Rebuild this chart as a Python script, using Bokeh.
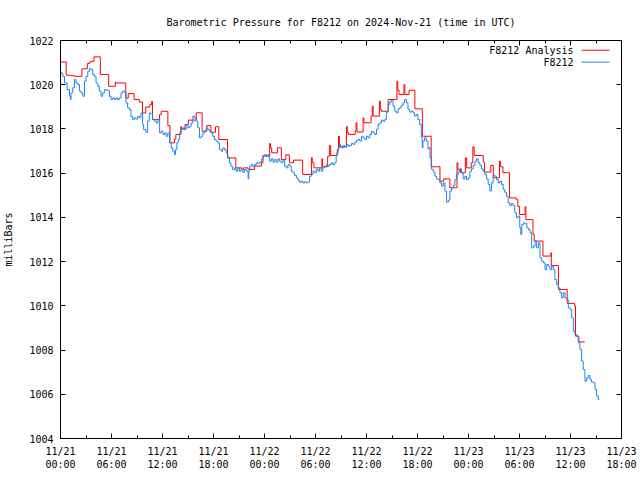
from bokeh.plotting import figure
from bokeh.models import Range1d, FixedTicker, LinearAxis, Label
from bokeh.embed import file_html
from bokeh.resources import INLINE

TITLE = "Barometric Pressure for F8212 on 2024-Nov-21 (time in UTC)"
Y_LABEL = "milliBars"
SERIES_NAMES = ["F8212 Analysis", "F8212"]

# hours since 2024-11-21 00:00 UTC
analysis_hours = [0.00, 0.67, 1.25, 1.64, 2.52, 3.16, 3.40, 3.60, 3.94, 4.69, 5.67, 6.45, 6.55,
                  7.68, 7.97, 8.66, 9.25, 9.64, 10.03, 10.52, 10.72, 10.82, 11.65, 11.85, 12.63,
                  12.88, 13.42, 13.57, 14.15, 14.25, 14.65, 15.04, 15.97, 16.66, 17.20, 17.69,
                  18.23, 18.62, 19.65, 20.63, 21.32, 21.52, 22.06, 22.84, 23.63, 23.82, 24.61,
                  24.71, 24.85, 25.54, 25.98, 26.52, 26.92, 27.41, 28.49, 29.52, 29.62, 29.81,
                  30.75, 30.84, 31.43, 31.63, 31.78, 32.56, 32.71, 32.81, 33.64, 33.74, 33.89,
                  34.67, 34.77, 34.87, 35.60, 35.70, 36.54, 36.68, 36.78, 37.52, 37.62, 37.76,
                  38.55, 39.58, 39.68, 39.83, 40.41, 40.51, 41.00, 41.69, 42.57, 43.61, 44.64,
                  45.08, 45.81, 46.65, 46.75, 47.04, 47.63, 47.78, 48.32, 48.51, 48.66, 49.74,
                  49.89, 50.62, 50.92, 51.65, 51.75, 52.05, 52.83, 53.62, 53.81, 54.01, 54.65,
                  54.75, 55.58, 55.73, 56.76, 57.69, 57.74, 58.58, 59.61, 60.49, 60.59, 60.98,
                  61.67]
analysis_mb = [1021.03, 1020.43, 1020.41, 1020.38, 1020.72, 1020.96, 1021.02, 1021.06, 1021.26,
               1020.46, 1019.93, 1020.12, 1020.08, 1019.40, 1019.60, 1019.33, 1019.22, 1018.72,
               1018.99, 1019.10, 1019.25, 1018.43, 1018.65, 1018.80, 1018.15, 1017.37, 1017.55,
               1017.75, 1018.10, 1018.00, 1018.20, 1018.40, 1018.73, 1017.90, 1018.15, 1017.85,
               1018.10, 1017.52, 1016.69, 1016.24, 1016.17, 1016.24, 1016.17, 1016.32, 1016.47,
               1016.77, 1017.34, 1017.15, 1016.92, 1017.15, 1016.62, 1016.83, 1016.47, 1016.59,
               1015.94, 1016.70, 1016.47, 1016.24, 1016.65, 1016.29, 1016.77, 1017.25, 1016.80,
               1017.07, 1017.67, 1017.19, 1018.10, 1017.83, 1017.75, 1017.90, 1018.28, 1017.86,
               1018.50, 1018.28, 1018.58, 1019.03, 1018.58, 1019.26, 1018.88, 1018.80, 1019.33,
               1020.16, 1019.75, 1019.56, 1020.01, 1019.56, 1019.75, 1018.91, 1017.67, 1016.29,
               1015.64, 1015.74, 1015.34, 1016.47, 1016.17, 1016.02, 1016.69, 1016.24, 1016.47,
               1017.19, 1016.80, 1016.50, 1016.05, 1016.35, 1015.79, 1016.54, 1016.29, 1016.02,
               1014.88, 1014.80, 1014.50, 1014.13, 1014.48, 1013.90, 1013.23, 1012.93, 1012.25,
               1012.40, 1011.82, 1010.74, 1010.11, 1010.00, 1008.63, 1008.37, 1008.37]

obs_hours = [0.00, 0.15, 0.27, 0.47, 0.78, 1.06, 1.17, 1.24, 1.44, 1.64, 1.83, 2.03, 2.23, 2.42,
             2.62, 2.82, 3.01, 3.21, 3.40, 3.60, 3.79, 3.98, 4.18, 4.38, 4.57, 4.77, 4.97, 5.16,
             5.36, 5.75, 5.95, 6.13, 6.33, 6.53, 6.72, 6.92, 7.12, 7.31, 7.51, 7.70, 7.90, 8.10,
             8.29, 8.49, 8.68, 8.87, 9.07, 9.27, 9.46, 9.66, 9.78, 10.05, 10.25, 10.44, 10.64,
             10.84, 11.07, 11.27, 11.46, 11.66, 11.85, 12.05, 12.24, 12.44, 12.63, 12.83, 13.03,
             13.22, 13.42, 13.54, 13.69, 13.85, 14.01, 14.20, 14.40, 14.59, 14.78, 14.98, 15.18,
             15.37, 15.57, 15.76, 15.96, 16.16, 16.35, 16.55, 16.75, 16.94, 17.14, 17.33, 17.52,
             17.72, 17.91, 18.11, 18.31, 18.50, 18.70, 18.90, 19.09, 19.29, 19.48, 19.68, 19.88,
             20.06, 20.26, 20.46, 20.65, 20.85, 21.05, 21.24, 21.44, 21.64, 21.87, 22.07, 22.15,
             22.26, 22.46, 22.65, 22.84, 23.04, 23.24, 23.43, 23.63, 23.82, 24.02, 24.22, 24.41,
             24.61, 24.80, 25.00, 25.20, 25.38, 25.58, 25.78, 25.97, 26.17, 26.37, 26.56, 26.76,
             26.96, 27.15, 27.35, 27.54, 27.74, 27.94, 28.12, 28.32, 28.52, 28.71, 28.91, 29.11,
             29.30, 29.50, 29.70, 29.89, 30.09, 30.28, 30.48, 30.68, 30.86, 31.06, 31.26, 31.45,
             31.65, 31.84, 32.04, 32.24, 32.43, 32.52, 32.67, 32.87, 32.94, 33.06, 33.26, 33.44,
             33.64, 33.84, 34.03, 34.23, 34.43, 34.62, 34.82, 35.02, 35.21, 35.41, 35.60, 35.80,
             36.00, 36.18, 36.38, 36.58, 36.77, 36.97, 37.17, 37.36, 37.56, 37.76, 37.95, 38.15,
             38.34, 38.54, 38.74, 38.92, 39.12, 39.32, 39.51, 39.71, 39.90, 40.10, 40.29, 40.49,
             40.69, 40.88, 41.08, 41.27, 41.47, 41.66, 41.86, 42.05, 42.25, 42.45, 42.56, 42.64,
             42.84, 43.04, 43.23, 43.35, 43.47, 43.66, 43.86, 44.06, 44.24, 44.44, 44.63, 44.83,
             45.03, 45.22, 45.42, 45.62, 45.81, 46.01, 46.21, 46.40, 46.60, 46.80, 46.98, 47.18,
             47.37, 47.57, 47.77, 47.96, 48.16, 48.36, 48.55, 48.75, 48.94, 49.14, 49.34, 49.53,
             49.72, 49.92, 50.11, 50.31, 50.51, 50.70, 50.90, 51.10, 51.29, 51.49, 51.68, 51.88,
             52.08, 52.27, 52.46, 52.66, 52.85, 53.05, 53.25, 53.44, 53.64, 53.83, 54.03, 54.15,
             54.27, 54.46, 54.66, 54.86, 55.04, 55.24, 55.43, 55.63, 55.83, 56.02, 56.22, 56.41,
             56.61, 56.81, 57.00, 57.20, 57.40, 57.59, 57.78, 57.97, 58.17, 58.37, 58.56, 58.76,
             58.96, 59.15, 59.35, 59.55, 59.74, 59.94, 60.14, 60.33, 60.52, 60.72, 60.91, 61.11,
             61.31, 61.50, 61.70, 61.89, 62.09, 62.29, 62.48, 62.68, 62.88, 63.07, 63.27, 63.40]
obs_mb = [1020.56, 1020.50, 1020.38, 1020.08, 1019.78, 1019.48, 1019.33, 1019.63, 1019.86, 1020.23,
          1020.08, 1020.01, 1019.71, 1019.63, 1019.48, 1020.16, 1020.38, 1020.61, 1020.72, 1020.69,
          1020.46, 1020.38, 1020.08, 1019.93, 1019.71, 1019.48, 1019.63, 1019.78, 1019.75, 1019.48,
          1019.33, 1019.40, 1019.33, 1019.40, 1019.33, 1019.40, 1019.63, 1019.71, 1019.66, 1019.18,
          1018.95, 1018.88, 1018.57, 1018.42, 1018.50, 1018.45, 1018.57, 1018.50, 1018.72, 1018.20,
          1017.97, 1017.85, 1018.35, 1018.72, 1018.69, 1018.42, 1018.35, 1018.27, 1018.43, 1017.82,
          1017.90, 1017.75, 1017.82, 1017.67, 1017.82, 1017.37, 1017.14, 1016.99, 1016.84, 1017.07,
          1017.37, 1017.52, 1017.82, 1017.97, 1018.05, 1017.97, 1018.20, 1018.05, 1018.12, 1018.27,
          1018.58, 1018.50, 1018.35, 1018.05, 1017.60, 1017.67, 1017.82, 1017.90, 1018.05, 1017.97,
          1017.90, 1017.82, 1017.67, 1017.52, 1017.45, 1017.37, 1017.07, 1016.99, 1017.14, 1017.07,
          1016.92, 1016.69, 1016.47, 1016.31, 1016.16, 1016.24, 1016.09, 1016.24, 1016.09, 1016.16,
          1016.04, 1016.16, 1016.09, 1015.74, 1016.09, 1016.32, 1016.39, 1016.29, 1016.39, 1016.47,
          1016.44, 1016.50, 1016.62, 1016.80, 1016.84, 1016.77, 1016.84, 1016.54, 1016.65, 1016.50,
          1016.62, 1016.50, 1016.65, 1016.54, 1016.47, 1016.59, 1016.32, 1016.24, 1016.39, 1016.32,
          1016.09, 1016.02, 1015.90, 1015.79, 1015.68, 1015.59, 1015.64, 1015.56, 1015.61, 1015.56,
          1015.59, 1015.86, 1015.94, 1016.09, 1016.02, 1016.17, 1016.09, 1016.24, 1016.09, 1016.24,
          1016.29, 1016.39, 1016.32, 1016.39, 1016.47, 1016.39, 1016.47, 1016.80, 1016.92, 1017.15,
          1017.30, 1017.22, 1017.15, 1017.25, 1017.18, 1017.30, 1017.22, 1017.25, 1017.34, 1017.30,
          1017.40, 1017.49, 1017.52, 1017.45, 1017.67, 1017.60, 1017.52, 1017.67, 1017.60, 1017.75,
          1017.90, 1017.83, 1017.75, 1017.98, 1018.20, 1018.28, 1018.40, 1018.35, 1018.43, 1018.76,
          1019.11, 1019.21, 1019.30, 1019.03, 1018.81, 1018.73, 1018.91, 1018.96, 1019.06, 1019.18,
          1019.33, 1019.18, 1018.88, 1018.76, 1018.81, 1018.73, 1018.58, 1018.65, 1018.43, 1018.20,
          1017.60, 1017.15, 1017.45, 1017.60, 1017.45, 1017.10, 1017.15, 1016.69, 1016.17, 1016.05,
          1015.86, 1015.74, 1015.71, 1015.56, 1015.41, 1015.56, 1015.19, 1014.69, 1014.78, 1015.19,
          1015.34, 1015.44, 1015.71, 1015.94, 1016.09, 1016.20, 1016.02, 1015.74, 1015.86, 1015.71,
          1015.79, 1016.09, 1016.20, 1016.35, 1016.54, 1016.65, 1016.47, 1016.35, 1016.20, 1016.09,
          1015.94, 1015.74, 1015.49, 1015.19, 1015.56, 1015.90, 1015.86, 1015.71, 1015.56, 1015.64,
          1015.49, 1015.26, 1015.14, 1014.96, 1014.66, 1014.54, 1014.63, 1014.54, 1014.21, 1013.98,
          1014.06, 1013.53, 1013.23, 1013.68, 1013.75, 1013.72, 1013.53, 1013.45, 1013.30, 1012.62,
          1012.70, 1012.93, 1012.62, 1012.85, 1012.17, 1012.02, 1011.95, 1011.64, 1011.87, 1011.79,
          1011.64, 1011.79, 1011.64, 1011.19, 1010.97, 1010.81, 1010.59, 1010.36, 1010.59, 1010.36,
          1010.29, 1009.91, 1009.84, 1009.46, 1008.85, 1008.70, 1008.63, 1008.33, 1008.03, 1007.50,
          1007.12, 1006.59, 1006.74, 1006.85, 1006.67, 1006.55, 1006.52, 1006.22, 1005.92, 1005.76,
          1005.76]

x_tick_hours = [0, 6, 12, 18, 24, 30, 36, 42, 48, 54, 60, 66]
x_minor_hours = [3, 9, 15, 21, 27, 33, 39, 45, 51, 57, 63]
x_tick_labels = ["11/21\n00:00", "11/21\n06:00", "11/21\n12:00", "11/21\n18:00",
                 "11/22\n00:00", "11/22\n06:00", "11/22\n12:00", "11/22\n18:00",
                 "11/23\n00:00", "11/23\n06:00", "11/23\n12:00", "11/23\n18:00"]
y_ticks = [1004, 1006, 1008, 1010, 1012, 1014, 1016, 1018, 1020, 1022]

RED = "#ff0000"
BLUE = "#1c86ee"
FONT = "DejaVu Sans Mono"
FS = "10px"

p = figure(width=640, height=480, output_backend="svg", toolbar_location=None,
           x_range=Range1d(0, 66), y_range=Range1d(1004, 1022),
           x_axis_location=None, y_axis_location=None,
           min_border_left=58, min_border_right=19, min_border_top=40, min_border_bottom=42)
p.grid.visible = False
p.outline_line_color = "black"
p.outline_line_width = 1
p.background_fill_color = "white"
p.border_fill_color = "white"

p.title.text = TITLE
p.title.align = "center"
p.title.text_font = FONT
p.title.text_font_size = FS
p.title.text_font_style = "normal"
p.title.text_color = "black"
p.title.standoff = 25

xt = FixedTicker(ticks=x_tick_hours, minor_ticks=x_minor_hours)
yt = FixedTicker(ticks=y_ticks, minor_ticks=[])


def style(ax, show_labels):
    ax.axis_line_color = "black"
    ax.major_tick_in = 5
    ax.major_tick_out = 0
    ax.minor_tick_in = 3
    ax.minor_tick_out = 0
    ax.major_tick_line_color = "black"
    ax.minor_tick_line_color = "black"
    ax.major_label_text_font = FONT
    if show_labels:
        ax.major_label_text_color = "black"
        ax.major_label_text_font_size = FS
        ax.major_label_standoff = 7
    else:
        ax.major_label_text_color = None
        ax.major_label_text_font_size = "1px"
        ax.major_label_standoff = 0


bottom = LinearAxis(ticker=xt, major_label_overrides=dict(zip(x_tick_hours, x_tick_labels)))
style(bottom, True)
top = LinearAxis(ticker=xt)
style(top, False)
left = LinearAxis(ticker=yt, axis_label=Y_LABEL)
style(left, True)
left.axis_label_text_font = FONT
left.axis_label_text_font_size = FS
left.axis_label_text_font_style = "normal"
left.axis_label_text_color = "black"
left.axis_label_standoff = 12
right = LinearAxis(ticker=yt)
style(right, False)
p.add_layout(bottom, "below")
p.add_layout(top, "above")
p.add_layout(left, "left")
p.add_layout(right, "right")

p.step(analysis_hours, analysis_mb, mode="after", line_color=RED, line_width=1)
p.step(obs_hours, obs_mb, mode="after", line_color=BLUE, line_width=1)

# legend (gnuplot style: text right-aligned, sample line to its right)
LEG_TEXT_X = 60.36
LEG_LINE_X0, LEG_LINE_X1 = 61.30, 64.59
LEG_Y = [1021.56, 1021.02]
for name, color, yy in zip(SERIES_NAMES, [RED, BLUE], LEG_Y):
    p.add_layout(Label(x=LEG_TEXT_X, y=yy, text=name, text_align="right", text_baseline="middle",
                       text_font=FONT, text_font_size=FS, text_color="black"))
    p.segment(x0=[LEG_LINE_X0], y0=[yy], x1=[LEG_LINE_X1], y1=[yy], line_color=color, line_width=1)

open("out.html", "w").write(file_html(p, INLINE))
